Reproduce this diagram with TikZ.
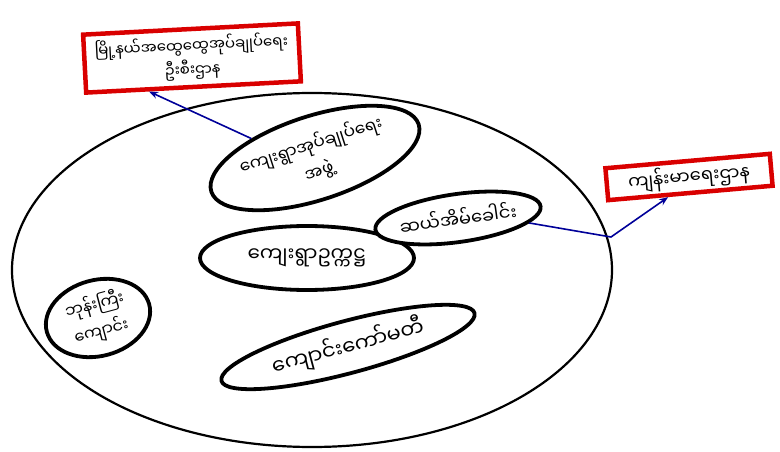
\documentclass[tikz,border=0pt]{standalone}
\usepackage{fontspec}
\newfontfamily\mm[Script=Myanmar]{Noto Sans Myanmar UI}
\usetikzlibrary{arrows.meta,shapes.geometric}
\newcommand{\mmsize}[1]{\mm\fontsize{#1}{1.75*#1}\selectfont}
\begin{document}
\begin{tikzpicture}[x=1pt,y=-1pt,
  grp/.style={draw=black, line width=3.8pt, ellipse, inner sep=0pt, align=center},
  redbox/.style={draw=red!85!black, line width=4.5pt, rectangle, inner sep=0pt, align=center},
  link/.style={draw=blue!60!black, line width=1.6pt, -{Stealth[length=9pt,width=7pt]}}
]
\useasboundingbox (0,0) rectangle (780,452);
% village circle
\node[draw=black, line width=2.2pt, ellipse, minimum width=600pt, minimum height=354pt] (village) at (312,270) {};
% outside boxes
\node[redbox, rotate=3, minimum width=215pt, minimum height=58pt, font=\mm\fontsize{15}{24}\selectfont] (tl) at (192,58) {မြို့နယ်အထွေထွေအုပ်ချုပ်ရေး\\ဦးစီးဌာန};
\node[redbox, rotate=5, minimum width=165pt, minimum height=32pt, font=\mm\fontsize{18}{24}\selectfont] (rb) at (689,177) {ကျန်းမာရေးဌာန};
% inner groups
\node[grp, rotate=18, minimum width=218pt, minimum height=84pt, font=\mm\fontsize{17}{27}\selectfont] (tp) at (315,158) {ကျေးရွာအုပ်ချုပ်ရေး\\အဖွဲ့};
\node[grp, minimum width=214pt, minimum height=64pt, fill=white, font=\mm\fontsize{20}{26}\selectfont] (ctr) at (307,258) {ကျေးရွာဥက္ကဋ္ဌ};
\node[grp, rotate=8, minimum width=165pt, minimum height=48pt, fill=white, font=\mm\fontsize{18}{24}\selectfont] (sm) at (458,218) {ဆယ်အိမ်ခေါင်း};
\node[grp, rotate=15, minimum width=106pt, minimum height=76pt, font=\mm\fontsize{16}{27}\selectfont] (lf) at (98,318) {ဘုန်းကြီး\\ကျောင်း};
\node[grp, rotate=15, minimum width=262pt, minimum height=52pt, font=\mm\fontsize{21}{26}\selectfont] (bt) at (348,347) {ကျောင်းကော်မတီ};
% links
\draw[link] (tp.145) -- (tl.215);
\coordinate (edge) at (611,237);
\draw[link] (sm.-12) -- (edge) -- (rb.219);
\end{tikzpicture}
\end{document}
